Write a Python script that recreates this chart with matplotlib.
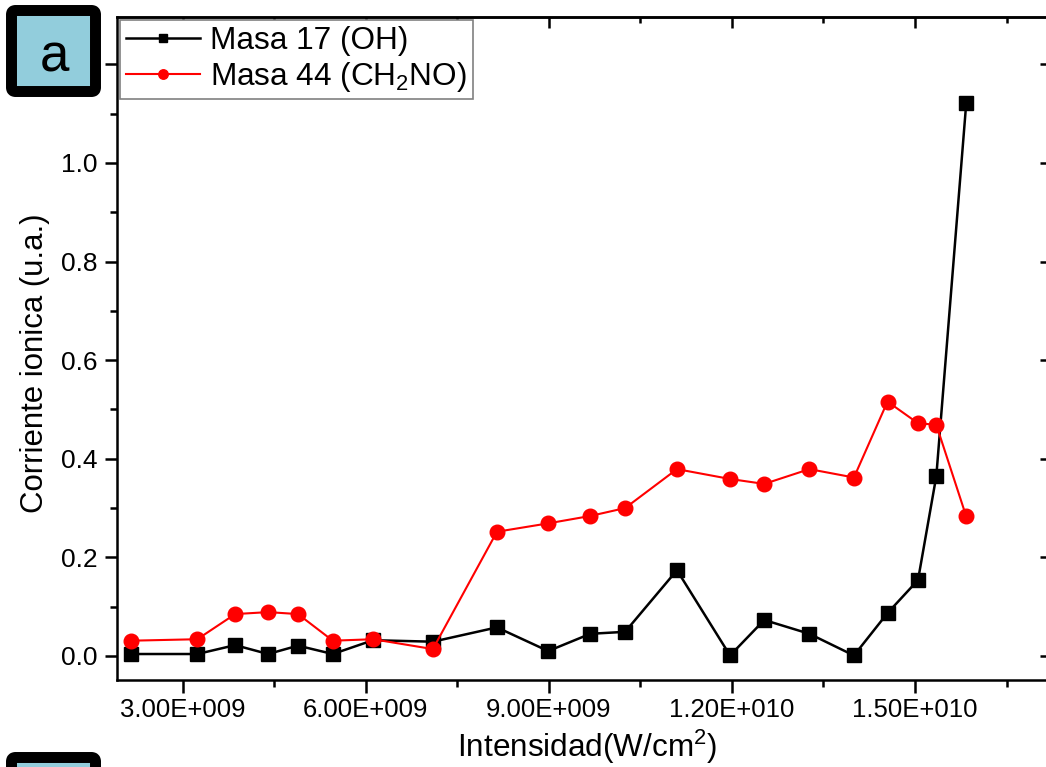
import matplotlib
matplotlib.use("Agg")
import matplotlib.pyplot as plt
from matplotlib.ticker import MultipleLocator, FuncFormatter
from matplotlib.patches import FancyBboxPatch
from matplotlib.transforms import IdentityTransform

plt.rcParams["font.family"] = ["Liberation Sans", "DejaVu Sans"]
plt.rcParams["mathtext.fontset"] = "custom"
plt.rcParams["mathtext.rm"] = "Liberation Sans"
plt.rcParams["mathtext.it"] = "Liberation Sans:italic"
plt.rcParams["mathtext.bf"] = "Liberation Sans:bold"

# Laser intensity (W/cm^2)
intensidad = [2.15e9, 3.24e9, 3.86e9, 4.40e9, 4.89e9, 5.46e9, 6.12e9, 7.10e9,
              8.15e9, 8.99e9, 9.68e9, 10.25e9, 11.10e9, 11.97e9, 12.53e9,
              13.27e9, 14.00e9, 14.55e9, 15.05e9, 15.35e9, 15.84e9]

# Ion current (arb. units)
masa17 = [0.004, 0.004, 0.022, 0.004, 0.021, 0.004, 0.032, 0.029,
          0.058, 0.010, 0.045, 0.049, 0.174, 0.001, 0.073, 0.045,
          0.001, 0.087, 0.154, 0.365, 1.121]
masa44 = [0.031, 0.034, 0.085, 0.089, 0.085, 0.031, 0.034, 0.014,
          0.252, 0.269, 0.284, 0.300, 0.379, 0.359, 0.349, 0.379,
          0.362, 0.516, 0.472, 0.469, 0.283]

W, H = 1046, 767
fig = plt.figure(figsize=(W / 100, H / 100), dpi=100)
ax = fig.add_axes([117 / W, 1 - 680 / H, (1048 - 117) / W, (680 - 17) / H])

ax.plot(intensidad, masa17, color="black", lw=1.8, marker="s", ms=9.4,
        label="Masa 17 (OH)")
ax.plot(intensidad, masa44, color="red", lw=1.5, marker="o", ms=10.5,
        label="Masa 44 (CH$_2$NO)")

ax.set_xlim(1.924e9, 17.18e9)
ax.set_ylim(-0.0487, 1.296)


def sci_fmt(v, pos):
    if v <= 0:
        return ""
    exp = 0
    m = v
    while m >= 10:
        m /= 10.0
        exp += 1
    return f"{m:.2f}E+{exp:03d}"


def y_fmt(v, pos):
    # the 1.2 label sits under the panel badge
    return f"{v:.1f}" if v < 1.1 else ""


ax.xaxis.set_major_locator(MultipleLocator(3e9))
ax.xaxis.set_minor_locator(MultipleLocator(1.5e9))
ax.xaxis.set_major_formatter(FuncFormatter(sci_fmt))
ax.yaxis.set_major_locator(MultipleLocator(0.2))
ax.yaxis.set_minor_locator(MultipleLocator(0.1))
ax.yaxis.set_major_formatter(FuncFormatter(y_fmt))

for s in ax.spines.values():
    s.set_linewidth(1.8)

ax.tick_params(which="major", direction="out", length=9, width=1.8,
               labelsize=18.5, pad=4)
ax.tick_params(which="minor", direction="out", length=5, width=1.8)
ax.tick_params(axis="y", which="major", labelsize=19, pad=5)

top = ax.secondary_xaxis("top")
top.xaxis.set_major_locator(MultipleLocator(3e9))
top.xaxis.set_minor_locator(MultipleLocator(1.5e9))
top.tick_params(which="major", direction="in", length=8, width=1.8,
                labeltop=False, labelbottom=False)
top.tick_params(which="minor", direction="in", length=4, width=1.8)
top.spines["top"].set_linewidth(1.8)

right = ax.secondary_yaxis("right")
right.yaxis.set_major_locator(MultipleLocator(0.2))
right.yaxis.set_minor_locator(MultipleLocator(0.1))
right.tick_params(which="major", direction="in", length=6, width=1.8,
                  labelright=False, labelleft=False)
right.tick_params(which="minor", length=0)

ax.set_xlabel("Intensidad(W/cm$^2$)", fontsize=22.7, labelpad=4)
ax.xaxis.label.set_x(0.505)
ax.set_ylabel("Corriente ionica (u.a.)", fontsize=22.4)
ax.yaxis.set_label_coords(-0.072, 0.477)

leg = ax.legend(loc="upper left", fontsize=22.7, frameon=True, fancybox=False,
                edgecolor="#808080", framealpha=1, borderaxespad=0.1,
                handlelength=2.35, handletextpad=0.33, borderpad=0.18,
                labelspacing=0.12, markerscale=0.65)
leg.get_frame().set_linewidth(1.2)

# Panel label boxes
box_fc = "#92CDDC"
for y0 in (H - 91.5, -71.5):
    fig.patches.append(FancyBboxPatch(
        (11.5, y0), 84, 81,
        boxstyle="round,pad=0,rounding_size=4",
        transform=IdentityTransform(), fc=box_fc, ec="black", lw=7.9,
        joinstyle="round", zorder=5))
fig.text(54 / W, (H - 72) / H, "a", ha="center", va="baseline",
         fontsize=38, color="black", zorder=6)

fig.savefig("out.png", dpi=100)
